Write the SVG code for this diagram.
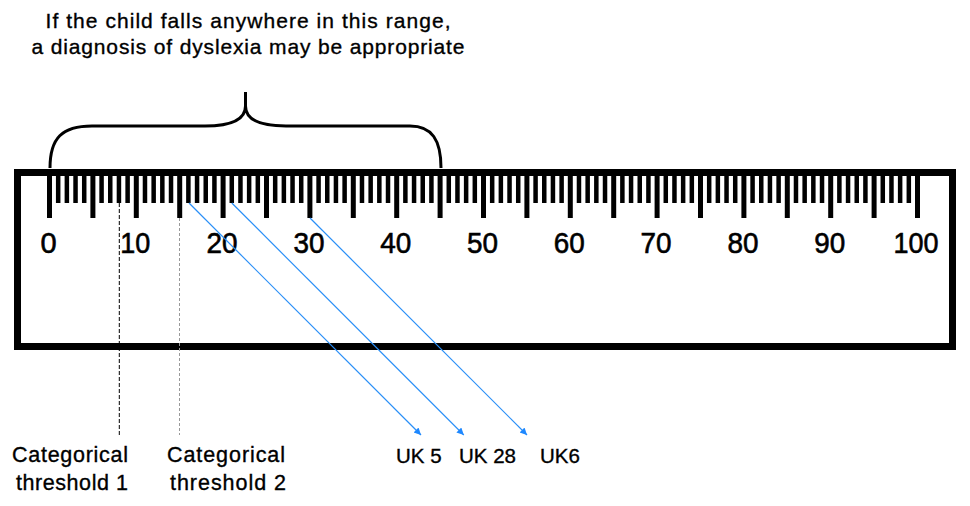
<svg xmlns="http://www.w3.org/2000/svg" width="970" height="506" viewBox="0 0 970 506">
<style>
text{font-family:"Liberation Sans",Arial,sans-serif;fill:#000;stroke:#000;stroke-width:0.35}
.num{font-size:29px;text-anchor:middle;stroke-width:0.6}
.lbl{font-size:21.5px;text-anchor:middle}
.uk{font-size:20.5px}
.title{font-size:21px;text-anchor:middle}
.arrow{stroke:#2a8ff7;stroke-width:1.2;fill:none;marker-end:url(#ah)}
</style>
<defs>
<marker id="ah" viewBox="0 0 10 10" refX="10" refY="5" markerWidth="9" markerHeight="7" markerUnits="userSpaceOnUse" orient="auto">
<path d="M0,0L10,5L0,10z" fill="#1e88ff"/>
</marker>
</defs>
<rect width="970" height="506" fill="#fff"/>
<g id="title">
<text class="title" x="248" y="27.5" textLength="405" lengthAdjust="spacing">If the child falls anywhere in this range,</text>
<text class="title" x="248" y="54" textLength="433" lengthAdjust="spacing">a diagnosis of dyslexia may be appropriate</text>
</g>
<g id="brace">
<path d="M50,168 C50,138 62,126 92,126 L205,126 C232,126 245.5,120 245.5,106 L245.5,92 M245.5,106 C245.5,120 259,126 286,126 L410,126 C432,126 441,140 441,168" fill="none" stroke="#000" stroke-width="3"/>
</g>
<g id="ruler">
<rect x="17.5" y="172.5" width="935" height="174" fill="none" stroke="#000" stroke-width="7"/>
<path fill="none" stroke="#000" stroke-width="4.5" d="M58.18,174V203M66.86,174V203M75.54,174V203M84.22,174V203M101.58,174V203M110.26,174V203M118.94,174V203M127.62,174V203M144.98,174V203M153.66,174V203M162.34,174V203M171.02,174V203M188.38,174V203M197.06,174V203M205.74,174V203M214.42,174V203M231.78,174V203M240.46,174V203M249.14,174V203M257.82,174V203M275.18,174V203M283.86,174V203M292.54,174V203M301.22,174V203M318.58,174V203M327.26,174V203M335.94,174V203M344.62,174V203M361.98,174V203M370.66,174V203M379.34,174V203M388.02,174V203M405.38,174V203M414.06,174V203M422.74,174V203M431.42,174V203M448.78,174V203M457.46,174V203M466.14,174V203M474.82,174V203M492.18,174V203M500.86,174V203M509.54,174V203M518.22,174V203M535.58,174V203M544.26,174V203M552.94,174V203M561.62,174V203M578.98,174V203M587.66,174V203M596.34,174V203M605.02,174V203M622.38,174V203M631.06,174V203M639.74,174V203M648.42,174V203M665.78,174V203M674.46,174V203M683.14,174V203M691.82,174V203M709.18,174V203M717.86,174V203M726.54,174V203M735.22,174V203M752.58,174V203M761.26,174V203M769.94,174V203M778.62,174V203M795.98,174V203M804.66,174V203M813.34,174V203M822.02,174V203M839.38,174V203M848.06,174V203M856.74,174V203M865.42,174V203M882.78,174V203M891.46,174V203M900.14,174V203M908.82,174V203"/>
<path fill="none" stroke="#000" stroke-width="5" d="M49.5,174V218M92.9,174V218M136.3,174V218M179.7,174V218M223.1,174V218M266.5,174V218M309.9,174V218M353.3,174V218M396.7,174V218M440.1,174V218M483.5,174V218M526.9,174V218M570.3,174V218M613.7,174V218M657.1,174V218M700.5,174V218M743.9,174V218M787.3,174V218M830.7,174V218M874.1,174V218M917.5,174V218"/>
<text class="num" x="48.5" y="252.5">0</text>
<text class="num" x="135.3" y="252.5" textLength="30" lengthAdjust="spacingAndGlyphs">10</text>
<text class="num" x="222.1" y="252.5" textLength="31" lengthAdjust="spacingAndGlyphs">20</text>
<text class="num" x="308.9" y="252.5" textLength="31" lengthAdjust="spacingAndGlyphs">30</text>
<text class="num" x="395.7" y="252.5" textLength="31" lengthAdjust="spacingAndGlyphs">40</text>
<text class="num" x="482.5" y="252.5" textLength="31" lengthAdjust="spacingAndGlyphs">50</text>
<text class="num" x="569.3" y="252.5" textLength="31" lengthAdjust="spacingAndGlyphs">60</text>
<text class="num" x="656.1" y="252.5" textLength="31" lengthAdjust="spacingAndGlyphs">70</text>
<text class="num" x="742.9" y="252.5" textLength="31" lengthAdjust="spacingAndGlyphs">80</text>
<text class="num" x="829.7" y="252.5" textLength="31" lengthAdjust="spacingAndGlyphs">90</text>
<text class="num" x="916" y="252.5" textLength="45" lengthAdjust="spacingAndGlyphs">100</text>
</g>
<g id="threshold1">
<line x1="119.3" y1="203" x2="119.3" y2="435" stroke="#000" stroke-width="1" stroke-dasharray="4,2"/>
<text class="lbl" x="70" y="461.5" textLength="116" lengthAdjust="spacing">Categorical</text>
<text class="lbl" x="72" y="490" textLength="112" lengthAdjust="spacing">threshold 1</text>
</g>
<g id="threshold2">
<line x1="179.5" y1="218" x2="179.5" y2="435" stroke="#999" stroke-width="1" stroke-dasharray="3,2"/>
<text class="lbl" x="226" y="461.5" textLength="118" lengthAdjust="spacing">Categorical</text>
<text class="lbl" x="228" y="490" textLength="116" lengthAdjust="spacing">threshold 2</text>
</g>
<g id="uk5"><text class="uk" x="396" y="463">UK 5</text></g>
<g id="uk28"><text class="uk" x="459" y="463">UK 28</text></g>
<g id="uk6"><text class="uk" x="540" y="463">UK6</text></g>
<g id="connectors">
<line class="arrow" x1="189" y1="203" x2="421" y2="435"/>
<line class="arrow" x1="231.8" y1="203" x2="463.8" y2="435"/>
<line class="arrow" x1="310" y1="218" x2="527" y2="435"/>
</g>
</svg>
